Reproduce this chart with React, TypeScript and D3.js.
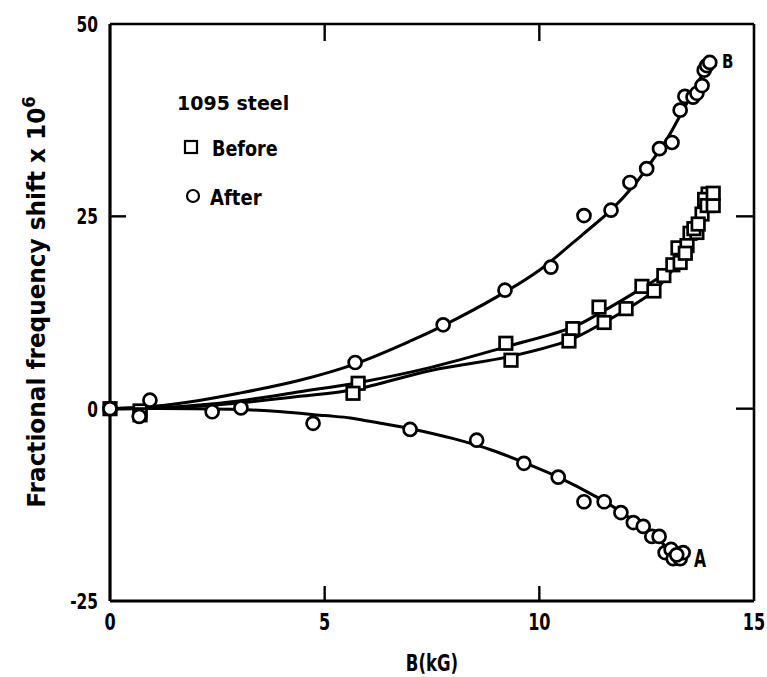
import React from "react";
import * as d3 from "d3";

type P = [number, number];

// Measured points: "After" (circles), curve B (upper)
const afterB: P[] = [
  [0, 0], [0.93, 1.1], [0.68, -1.0], [5.71, 6.0], [7.76, 10.9], [9.2, 15.4], [10.27, 18.4],
  [11.04, 25.1], [11.67, 25.8], [12.11, 29.4], [12.5, 31.2], [12.8, 33.8], [13.09, 34.6],
  [13.28, 38.8], [13.39, 40.6], [13.58, 40.5], [13.67, 41.0], [13.79, 42.0], [13.84, 44.0],
  [13.9, 44.6], [13.97, 45.0],
];
// "After" (circles), curve A (lower)
const afterA: P[] = [
  [2.38, -0.4], [3.05, 0.1], [4.73, -1.9], [6.99, -2.7], [8.54, -4.1], [9.64, -7.1],
  [10.44, -8.9], [11.04, -12.1], [11.51, -12.1], [11.9, -13.5], [12.19, -14.8], [12.42, -15.3],
  [12.62, -16.6], [12.79, -16.6], [12.93, -18.7], [13.07, -18.3], [13.12, -19.5], [13.28, -19.5],
  [13.35, -18.7], [13.2, -19.0],
];
// "Before" (squares), two runs
const before1: P[] = [
  [0, 0], [0.7, -0.3], [5.78, 3.3], [9.22, 8.5], [10.78, 10.4], [11.39, 13.2], [12.39, 15.9],
  [12.9, 17.3], [13.23, 20.9], [13.51, 22.8], [13.79, 25.3], [13.93, 27.9], [13.85, 27.2],
];
const before2: P[] = [
  [0.7, -0.8], [5.66, 2.0], [9.34, 6.3], [10.69, 8.8], [11.51, 11.2], [12.02, 13.0], [12.67, 15.3],
  [13.11, 18.7], [13.28, 19.0], [13.44, 21.2], [13.67, 22.9], [13.91, 26.4], [14.05, 26.4],
  [14.05, 28.0], [13.6, 23.4], [13.4, 20.2], [13.7, 24.0],
];

// Fitted curves
const fitB: P[] = [
  [0, 0], [1, 0.3], [2, 1.0], [3, 2.0], [4.42, 3.7], [5.7, 5.8], [7, 8.8], [7.76, 10.8],
  [9, 14.5], [10, 18.0], [11, 22.6], [11.67, 25.8], [12.2, 29.0], [12.6, 32.0], [13, 35.3],
  [13.3, 38.3], [13.6, 41.4], [13.97, 45.2],
];
const fitA: P[] = [
  [0, 0], [2, 0], [3, -0.1], [4, -0.4], [5, -0.9], [5.6, -1.2], [6, -1.6], [7, -2.6],
  [8, -3.9], [8.9, -5.4], [9.64, -7.0], [10.44, -8.9], [11.34, -11.5], [11.9, -13.4],
  [12.6, -16.3], [13.3, -19.5],
];
const fitBefore1: P[] = [
  [0, 0], [1, 0.1], [2, 0.45], [3, 1.0], [4.42, 2.2], [5.8, 3.4], [7.5, 5.4], [9.2, 8.0],
  [10.78, 10.6], [11.4, 12.4], [12.4, 15.7], [13, 17.9], [13.4, 20.8], [13.8, 24.5], [14.05, 28.0],
];
const fitBefore2: P[] = [
  [0, 0], [1, 0.05], [2, 0.3], [3, 0.75], [4.42, 1.6], [5.7, 2.5], [7.5, 5.0], [9.34, 6.8],
  [10.7, 8.9], [11.5, 11.2], [12.0, 12.8], [12.67, 15.3], [13.1, 18.0], [13.5, 21.5],
  [13.9, 26.0], [14.05, 27.5],
];

const xTicks = [0, 5, 10, 15];
const yTicks = [-25, 0, 25, 50];
const legendTitle = "1095 steel";
const legendItems = ["Before", "After"];
const xLabel = "B(kG)";

const FONT = "'DejaVu Sans', sans-serif";

export default function App() {
  const W = 767, H = 677;
  const x = d3.scaleLinear().domain([0, 15]).range([110, 754]);
  const y = d3.scaleLinear().domain([-25, 50]).range([601, 24]);
  const line = d3.line<P>().x(d => x(d[0])).y(d => y(d[1])).curve(d3.curveCatmullRom.alpha(0.5));
  const R = 6.5;
  const S = 12.5;
  const ink = "#000";
  const CX = 0.7; // horizontal condensing of tick labels

  const circles = (pts: P[], key: string) =>
    pts.map((d, i) => (
      <circle key={key + i} cx={x(d[0])} cy={y(d[1])} r={R} fill="#fff" stroke={ink} strokeWidth={2.7} />
    ));
  const squares = (pts: P[], key: string) =>
    pts.map((d, i) => (
      <rect key={key + i} x={x(d[0]) - S / 2} y={y(d[1]) - S / 2} width={S} height={S}
        fill="#fff" stroke={ink} strokeWidth={2.7} />
    ));

  return (
    <svg width={W} height={H} style={{ position: "absolute", left: 0, top: 0, background: "#fff" }}
      fontFamily={FONT} fontWeight="bold">
      <rect x={0} y={0} width={W} height={H} fill="#fff" />
      {/* curves */}
      {[fitB, fitA, fitBefore1, fitBefore2].map((c, i) => (
        <path key={"c" + i} d={line(c) || ""} fill="none" stroke={ink} strokeWidth={3} />
      ))}
      {/* frame */}
      <line x1={x(0)} x2={x(0)} y1={y(50)} y2={y(-25)} stroke={ink} strokeWidth={3.2} />
      <line x1={x(0)} x2={x(15)} y1={y(-25)} y2={y(-25)} stroke={ink} strokeWidth={3} />
      <line x1={x(0)} x2={x(15)} y1={y(50)} y2={y(50)} stroke={ink} strokeWidth={2.6} />
      <line x1={x(15)} x2={x(15)} y1={y(50)} y2={y(-25)} stroke={ink} strokeWidth={2.6} />
      {/* inner ticks */}
      {xTicks.filter(t => t > 0 && t < 15).map(t => (
        <g key={"xt" + t}>
          <line x1={x(t)} x2={x(t)} y1={y(-25)} y2={y(-25) - 15} stroke={ink} strokeWidth={2.4} />
          <line x1={x(t)} x2={x(t)} y1={y(50)} y2={y(50) + 17} stroke={ink} strokeWidth={2.4} />
        </g>
      ))}
      {yTicks.filter(t => t > -25 && t < 50).map(t => (
        <g key={"yt" + t}>
          <line x1={x(0)} x2={x(0) + 16} y1={y(t)} y2={y(t)} stroke={ink} strokeWidth={2.4} />
          <line x1={x(15)} x2={x(15) - 18} y1={y(t)} y2={y(t)} stroke={ink} strokeWidth={2.4} />
        </g>
      ))}
      {/* markers */}
      {squares(before1, "s1")}
      {squares(before2, "s2")}
      {circles(afterB, "ob")}
      {circles(afterA, "oa")}
      {/* tick labels */}
      {xTicks.map(t => (
        <text key={"xl" + t} transform={`translate(${x(t)},630) scale(${CX},1)`} textAnchor="middle"
          fontSize={23} fill={ink}>{t}</text>
      ))}
      {yTicks.map(t => (
        <text key={"yl" + t} transform={`translate(98,${y(t) + 8}) scale(${CX},1)`} textAnchor="end"
          fontSize={22} fill={ink}>{t}</text>
      ))}
      {/* axis titles */}
      <text transform="translate(432,671) scale(0.72,1)" textAnchor="middle" fontSize={23} fill={ink}>{xLabel}</text>
      <text transform={`translate(45,${302}) rotate(-90) scale(0.965,1)`} textAnchor="middle" fontSize={24} fill={ink}>
        Fractional frequency shift x 10<tspan dy={-10} fontSize={17}>6</tspan>
      </text>
      {/* curve labels */}
      <text transform="translate(722,68) scale(0.75,1)" fontSize={20} fill={ink}>B</text>
      <text transform="translate(694,567) scale(0.65,1)" fontSize={24} fill={ink}>A</text>
      {/* legend */}
      <text transform="translate(177,110) scale(1,1)" fontSize={19} fill={ink}>{legendTitle}</text>
      <rect x={191 - 6} y={147 - 6} width={12} height={12} fill="#fff" stroke={ink} strokeWidth={2.2} />
      <text transform="translate(212,156) scale(0.8,1)" fontSize={22} fill={ink}>{legendItems[0]}</text>
      <circle cx={193} cy={196} r={6} fill="#fff" stroke={ink} strokeWidth={2.2} />
      <text transform="translate(210,205) scale(0.82,1)" fontSize={22} fill={ink}>{legendItems[1]}</text>
    </svg>
  );
}
